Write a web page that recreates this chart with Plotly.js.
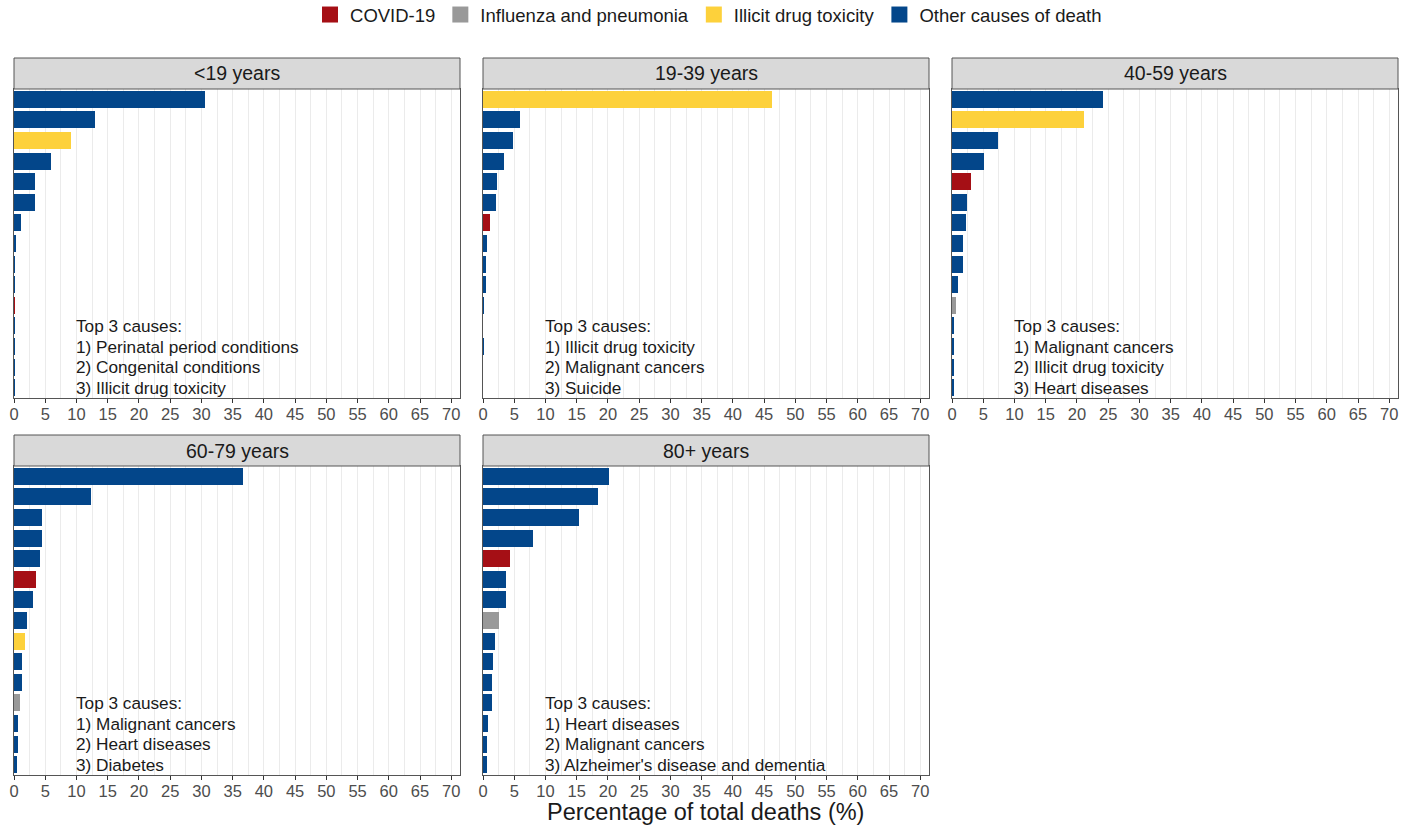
<!DOCTYPE html>
<html>
<head>
<meta charset="utf-8">
<script src="https://cdn.plot.ly/plotly-3.0.1.min.js"></script>
<style>
  html, body { margin: 0; padding: 0; background: #ffffff; }
  #chart { width: 1403px; height: 826px; }
</style>
</head>
<body>
<div id="chart"></div>
<script>
// Share of total deaths (%) for the 15 leading causes in each age group,
// ranked from largest (1) to smallest (15).
const ageGroups = ['<19 years', '19-39 years', '40-59 years', '60-79 years', '80+ years'];
const ranks = [1, 2, 3, 4, 5, 6, 7, 8, 9, 10, 11, 12, 13, 14, 15];

const valuesUnder19 = [30.5, 13.0, 9.1, 6.0, 3.3, 3.3, 1.1, 0.3, 0.15, 0.15, 0.15, 0.1, 0.1, 0.1, 0.1];
const groupsUnder19 = ['O', 'O', 'D', 'O', 'O', 'O', 'O', 'O', 'O', 'O', 'C', 'O', 'O', 'O', 'O'];

const values19to39 = [46.3, 6.0, 4.8, 3.4, 2.3, 2.1, 1.1, 0.7, 0.4, 0.4, 0.15, 0.05, 0.15, 0.05, 0.05];
const groups19to39 = ['D', 'O', 'O', 'O', 'O', 'O', 'C', 'O', 'O', 'O', 'O', 'O', 'O', 'O', 'O'];

const values40to59 = [24.2, 21.1, 7.3, 5.1, 3.0, 2.4, 2.2, 1.8, 1.8, 0.9, 0.7, 0.25, 0.25, 0.25, 0.25];
const groups40to59 = ['O', 'D', 'O', 'O', 'C', 'O', 'O', 'O', 'O', 'O', 'I', 'O', 'O', 'O', 'O'];

const values60to79 = [36.7, 12.4, 4.5, 4.5, 4.2, 3.6, 3.1, 2.1, 1.7, 1.2, 1.2, 0.95, 0.6, 0.6, 0.4];
const groups60to79 = ['O', 'O', 'O', 'O', 'O', 'C', 'O', 'O', 'D', 'O', 'O', 'I', 'O', 'O', 'O'];

const values80plus = [20.1, 18.4, 15.3, 8.0, 4.3, 3.7, 3.7, 2.5, 2.0, 1.6, 1.5, 1.5, 0.8, 0.6, 0.6];
const groups80plus = ['O', 'O', 'O', 'O', 'C', 'O', 'O', 'I', 'O', 'O', 'O', 'O', 'O', 'O', 'O'];

const topCauses = [
  ['1) Perinatal period conditions', '2) Congenital conditions', '3) Illicit drug toxicity'],
  ['1) Illicit drug toxicity', '2) Malignant cancers', '3) Suicide'],
  ['1) Malignant cancers', '2) Illicit drug toxicity', '3) Heart diseases'],
  ['1) Malignant cancers', '2) Heart diseases', '3) Diabetes'],
  ['1) Heart diseases', '2) Malignant cancers', "3) Alzheimer's disease and dementia"]
];

const groupCodes = ['C', 'I', 'D', 'O'];
const groupNames = ['COVID-19', 'Influenza and pneumonia', 'Illicit drug toxicity', 'Other causes of death'];
const groupColors = { C: '#a50f15', I: '#999999', D: '#fdd13b', O: '#03468a' };

const panelValues = [valuesUnder19, values19to39, values40to59, values60to79, values80plus];
const panelGroups = [groupsUnder19, groups19to39, groups40to59, groups60to79, groups80plus];

// Panel geometry in pixels (left, right, top of plot, bottom of plot, top of strip)
const W = 1403, H = 826;
const cols = [[14, 460], [483, 929], [952, 1398]];
const rows = [{ strip: 58, top: 89, bottom: 398 }, { strip: 435, top: 466, bottom: 775 }];
const panelCell = [[0, 0], [0, 1], [0, 2], [1, 0], [1, 1]];

const FONT = 'Liberation Sans, Arial, Helvetica, sans-serif';
const px = v => v / W;
const py = v => 1 - v / H;

const traces = [];
const shapes = [];
const annotations = [];
const layout = {
  width: W, height: H,
  margin: { l: 0, r: 0, t: 0, b: 0, autoexpand: false },
  paper_bgcolor: '#ffffff',
  plot_bgcolor: '#ffffff',
  font: { family: FONT, color: '#1a1a1a' },
  showlegend: true,
  legend: {
    orientation: 'h', x: 0.505, xanchor: 'center', y: py(15), yanchor: 'middle',
    font: { family: FONT, size: 18.5, color: '#1a1a1a' },
    itemclick: false, itemdoubleclick: false, tracegroupgap: 0
  },
  bargap: 0,
  shapes: shapes,
  annotations: annotations
};

panelValues.forEach((vals, p) => {
  const [r, c] = panelCell[p];
  const row = rows[r], col = cols[c];
  const n = p + 1;
  const xa = n === 1 ? 'x' : 'x' + n;
  const ya = n === 1 ? 'y' : 'y' + n;

  traces.push({
    type: 'bar', orientation: 'h',
    x: vals, y: ranks, width: 0.82,
    marker: { color: panelGroups[p].map(g => groupColors[g]), line: { width: 0 } },
    xaxis: xa, yaxis: ya, showlegend: false, hoverinfo: 'x'
  });

  layout['xaxis' + (n === 1 ? '' : n)] = {
    domain: [px(col[0]), px(col[1])],
    anchor: ya,
    range: [0, 71.4],
    tick0: 0, dtick: 5,
    ticks: 'outside', ticklen: 4, tickwidth: 1, tickcolor: '#333333',
    ticklabelstandoff: -3,
    tickfont: { family: FONT, size: 16.5, color: '#4d4d4d' },
    showgrid: true, gridcolor: '#ebebeb', gridwidth: 1,
    minor: { dtick: 2.5, showgrid: true, gridcolor: '#ebebeb', gridwidth: 1 },
    zeroline: false,
    showline: true, mirror: true, linecolor: '#555555', linewidth: 1,
    fixedrange: true
  };
  layout['yaxis' + (n === 1 ? '' : n)] = {
    domain: [py(row.bottom), py(row.top)],
    anchor: xa,
    range: [15.5, 0.5],
    showticklabels: false, ticks: '', showgrid: false, zeroline: false,
    showline: true, mirror: true, linecolor: '#555555', linewidth: 1,
    fixedrange: true
  };

  // Facet strip with the age group label
  shapes.push({
    type: 'rect', xref: 'paper', yref: 'paper',
    x0: px(col[0]), x1: px(col[1]), y0: py(row.top), y1: py(row.strip),
    fillcolor: '#d9d9d9', line: { color: '#555555', width: 1 }, layer: 'above'
  });
  annotations.push({
    xref: 'paper', yref: 'paper',
    x: px((col[0] + col[1]) / 2), y: py((row.strip + row.top) / 2),
    xanchor: 'center', yanchor: 'middle', showarrow: false,
    text: ageGroups[p], font: { family: FONT, size: 19.5, color: '#1a1a1a' }
  });

  // Top three causes listed inside the panel, one line per bottom rank
  const lines = ['Top 3 causes:'].concat(topCauses[p]);
  lines.forEach((t, i) => {
    annotations.push({
      xref: xa, yref: ya, x: 9.6, y: 12 + i,
      xanchor: 'left', yanchor: 'middle', showarrow: false,
      text: t, font: { family: FONT, size: 17.2, color: '#1a1a1a' }
    });
  });
});

// Legend entries for the four cause groups
groupCodes.forEach((g, i) => {
  traces.push({
    type: 'scatter', mode: 'markers', x: [null], y: [null],
    xaxis: 'x', yaxis: 'y', name: groupNames[i],
    marker: { symbol: 'square', size: 16, color: groupColors[g] },
    hoverinfo: 'skip'
  });
});

// Shared x-axis title
annotations.push({
  xref: 'paper', yref: 'paper', x: px(705), y: py(812),
  xanchor: 'center', yanchor: 'middle', showarrow: false,
  text: 'Percentage of total deaths (%)',
  font: { family: FONT, size: 23.5, color: '#1a1a1a' }
});

Plotly.newPlot('chart', traces, layout, { displayModeBar: false, staticPlot: true });
</script>
</body>
</html>
